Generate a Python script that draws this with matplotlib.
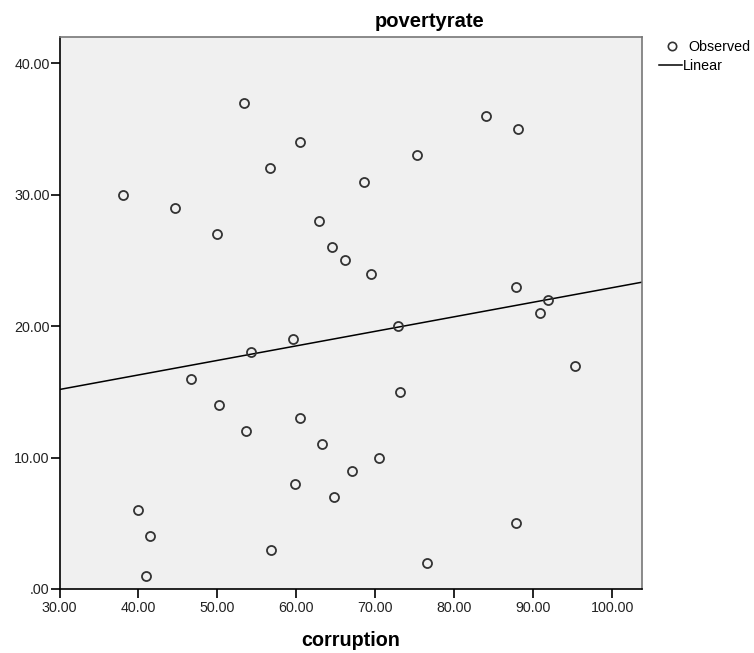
import numpy as np
import matplotlib
matplotlib.use("Agg")
import matplotlib.pyplot as plt
from matplotlib.lines import Line2D

corruption = [38.0, 44.6, 53.3, 49.9, 56.7, 60.5, 62.8, 64.5, 66.1, 68.5,
              69.4, 75.2, 84.0, 88.0, 87.8, 91.9, 90.8, 72.9, 59.5, 54.2,
              46.7, 95.3, 73.1, 50.2, 53.6, 60.4, 63.2, 67.0, 70.5, 59.8,
              64.7, 40.0, 41.4, 40.9, 56.8, 76.5, 87.8]
povertyrate = [30, 29, 37, 27, 32, 34, 28, 26, 25, 31,
               24, 33, 36, 35, 23, 22, 21, 20, 19, 18,
               16, 17, 15, 14, 12, 13, 11, 9, 10, 8,
               7, 6, 4, 1, 3, 2, 5]

x_ticks = [30, 40, 50, 60, 70, 80, 90, 100]
y_ticks = [0, 10, 20, 30, 40]

plt.rcParams["font.family"] = ["Liberation Sans", "DejaVu Sans"]

fig = plt.figure(figsize=(7.54, 6.53), dpi=100)
ax = fig.add_axes([59.5 / 754, 1 - 589 / 653, (642.5 - 59.5) / 754, (589 - 37) / 653])
ax.set_facecolor("#f0f0f0")

ax.plot(corruption, povertyrate, "o", ms=6.5, mfc="none", mec="#333333", mew=1.3,
        zorder=3)

# linear fit, as SPSS draws it across the whole plot width
slope, intercept = np.polyfit(corruption, povertyrate, 1)
xl = np.array([30, 103.8])
ax.plot(xl, intercept + slope * xl, color="black", lw=1.1, zorder=2)

ax.set_xlim(30, 103.8)
ax.set_ylim(0, 42)
ax.set_xticks(x_ticks)
ax.set_xticklabels([f"{v:.2f}" for v in x_ticks])
ax.set_yticks(y_ticks)
ax.set_yticklabels([".00" if v == 0 else f"{v:.2f}" for v in y_ticks])
ax.tick_params(direction="out", length=6.5, width=1.2, labelsize=10.3,
               color="black", labelcolor="#222222")
ax.tick_params(axis="y", pad=0.5)
ax.tick_params(axis="x", pad=2)
for side in ("left", "bottom"):
    ax.spines[side].set_color("black")
    ax.spines[side].set_linewidth(1.2)
for side in ("top", "right"):
    ax.spines[side].set_color("#777777")
    ax.spines[side].set_linewidth(1.2)

fig.text(430 / 754, 1 - 27 / 653, "povertyrate", ha="center", va="baseline",
         fontsize=14.5, fontweight="bold")
fig.text(351 / 754, 1 - 646 / 653, "corruption", ha="center", va="baseline",
         fontsize=14.2, fontweight="bold")

# legend drawn by hand, SPSS style
fig.add_artist(Line2D([672 / 754], [1 - 46 / 653], marker="o", ms=6, mfc="none",
                      mec="#333333", mew=1.2, transform=fig.transFigure))
fig.text(688 / 754, 1 - 47 / 653, "Observed", ha="left", va="center", fontsize=10.3)
fig.add_artist(Line2D([659 / 754, 682 / 754], [1 - 65 / 653] * 2, color="black",
                      lw=1.1, transform=fig.transFigure))
fig.text(683 / 754, 1 - 66 / 653, "Linear", ha="left", va="center", fontsize=10.3)

fig.savefig("out.png", dpi=100)
